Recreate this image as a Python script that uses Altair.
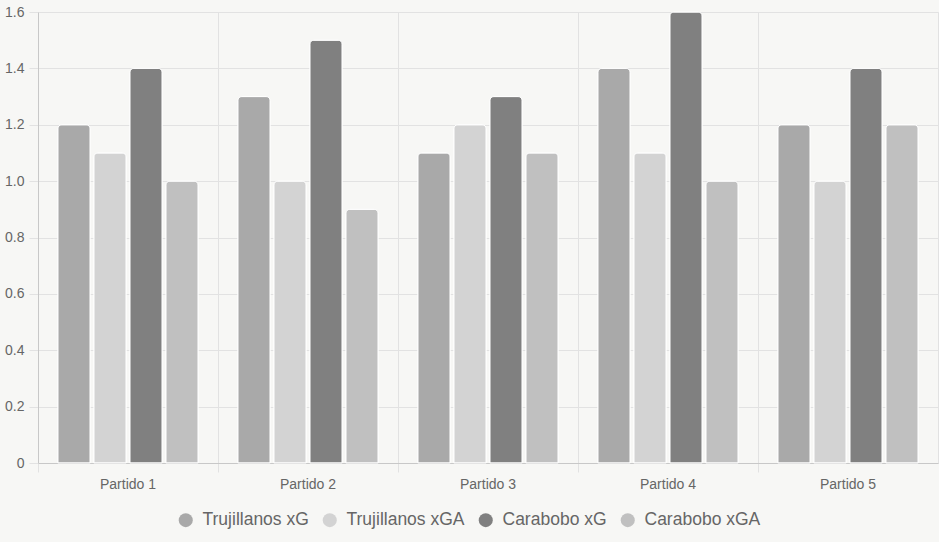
import altair as alt
import pandas as pd

partidos = ["Partido 1", "Partido 2", "Partido 3", "Partido 4", "Partido 5"]
series = ["Trujillanos xG", "Trujillanos xGA", "Carabobo xG", "Carabobo xGA"]
trujillanos_xg = [1.2, 1.3, 1.1, 1.4, 1.2]
trujillanos_xga = [1.1, 1.0, 1.2, 1.1, 1.0]
carabobo_xg = [1.4, 1.5, 1.3, 1.6, 1.4]
carabobo_xga = [1.0, 0.9, 1.1, 1.0, 1.2]
colors = ["#a9a9a9", "#d3d3d3", "#808080", "#c0c0c0"]
y_ticks = [0, 0.2, 0.4, 0.6, 0.8, 1.0, 1.2, 1.4, 1.6]

rows = []
for s, vals in zip(series, [trujillanos_xg, trujillanos_xga, carabobo_xg, carabobo_xga]):
    for p, v in zip(partidos, vals):
        rows.append({"Partido": p, "Serie": s, "Valor": v})
df = pd.DataFrame(rows)

FONT = "Liberation Sans"

chart = alt.Chart(df).mark_bar(
    cornerRadiusTopLeft=4, cornerRadiusTopRight=4, stroke="#ffffff", strokeWidth=1
).encode(
    x=alt.X("Partido:N", sort=partidos,
            scale=alt.Scale(paddingInner=0, paddingOuter=0),
            axis=alt.Axis(title=None, bandPosition=0, labelAngle=0,
                          grid=True, gridColor="#e2e2e2", tickColor="#e2e2e2", tickSize=9,
                          domainColor="#c8c8c8", labelColor="#666666", labelFont=FONT,
                          labelFontSize=14, labelPadding=5)),
    xOffset=alt.XOffset("Serie:N", sort=series,
                        scale=alt.Scale(paddingInner=0.1, paddingOuter=0.55)),
    y=alt.Y("Valor:Q", scale=alt.Scale(domain=[0, 1.6], nice=False),
            axis=alt.Axis(title=None, values=y_ticks,
                          labelExpr="datum.value == 0 ? '0' : format(datum.value, '.1f')",
                          grid=True, gridColor="#e2e2e2", tickColor="#e2e2e2", tickSize=9,
                          domainColor="#c8c8c8", labelColor="#666666", labelFont=FONT,
                          labelFontSize=14, labelPadding=5)),
    color=alt.Color("Serie:N", sort=series,
                    scale=alt.Scale(domain=series, range=colors),
                    legend=alt.Legend(title=None, orient="none", legendX=139, legendY=499,
                                      direction="horizontal", columns=4,
                                      symbolType="circle", symbolSize=196,
                                      symbolStrokeWidth=0, labelFontSize=17.5,
                                      labelFont=FONT, labelColor="#666666",
                                      labelOffset=8, columnPadding=12)),
).properties(
    width=900, height=451,
    padding={"left": 38, "top": 12, "right": 1, "bottom": 79},
    autosize=alt.AutoSizeParams(type="none"),
    background="#f7f7f5",
).configure_view(stroke="#e2e2e2")

chart.save("out.html", embed_options={"renderer": "svg", "actions": False})
